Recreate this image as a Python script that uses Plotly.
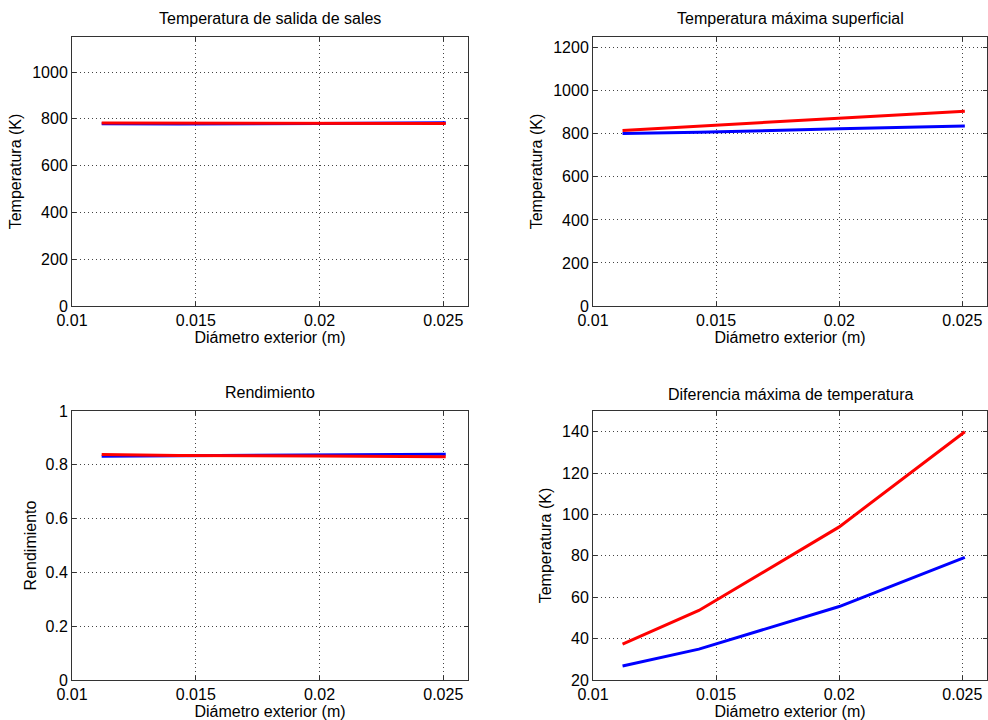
import plotly.graph_objects as go
from plotly.subplots import make_subplots

# ---- data ----
diametro = [0.0112, 0.0143, 0.0200, 0.0251]

t_salida_azul = [779, 778, 780, 783]
t_salida_rojo = [782, 781, 781, 780]

t_max_sup_azul = [801, 807, 824, 836]
t_max_sup_rojo = [816, 836, 871, 905]

rend_azul = [0.832, 0.834, 0.837, 0.839]
rend_rojo = [0.838, 0.835, 0.833, 0.830]

dif_max_azul = [26.8, 34.9, 55.5, 79.3]
dif_max_rojo = [37.3, 53.6, 94.0, 140.0]

titulos = ["Temperatura de salida de sales", "Temperatura máxima superficial",
           "Rendimiento", "Diferencia máxima de temperatura"]
ylabels = ["Temperatura (K)", "Temperatura (K)", "Rendimiento", "Temperatura (K)"]
xlabel = "Diámetro exterior (m)"

x_ticks = [0.01, 0.015, 0.02, 0.025]
x_ticktext = ["0.01", "0.015", "0.02", "0.025"]
y1_ticks = [0, 200, 400, 600, 800, 1000]
y2_ticks = [0, 200, 400, 600, 800, 1000, 1200]
y3_ticks = [0, 0.2, 0.4, 0.6, 0.8, 1]
y3_ticktext = ["0", "0.2", "0.4", "0.6", "0.8", "1"]
y4_ticks = [20, 40, 60, 80, 100, 120, 140]

# body margin is removed below, so the figure fills the 988x720 window
W, H = 988, 720
FONT = "Liberation Sans, Arial, Helvetica, sans-serif"
FS = 16


def px_x(p):
    return p / W


def px_y(p):
    return 1 - p / H


fig = make_subplots(rows=2, cols=2)

series = [
    (1, 1, t_salida_azul, t_salida_rojo),
    (1, 2, t_max_sup_azul, t_max_sup_rojo),
    (2, 1, rend_azul, rend_rojo),
    (2, 2, dif_max_azul, dif_max_rojo),
]
for r, c, az, ro in series:
    fig.add_trace(go.Scatter(x=diametro, y=az, mode="lines",
                             line=dict(color="#0000ff", width=3), showlegend=False),
                  row=r, col=c)
    fig.add_trace(go.Scatter(x=diametro, y=ro, mode="lines",
                             line=dict(color="#ff0000", width=3), showlegend=False),
                  row=r, col=c)

xdom = {1: [px_x(72), px_x(468)], 2: [px_x(593), px_x(987)]}
ydom = {1: [px_y(306), px_y(37)], 2: [px_y(680), px_y(411)]}

yranges = {(1, 1): [0, 1150], (1, 2): [0, 1250], (2, 1): [0, 1], (2, 2): [20, 150]}
yticks = {(1, 1): (y1_ticks, [str(v) for v in y1_ticks]),
          (1, 2): (y2_ticks, [str(v) for v in y2_ticks]),
          (2, 1): (y3_ticks, y3_ticktext),
          (2, 2): (y4_ticks, [str(v) for v in y4_ticks])}
ystandoff = {(1, 1): 6, (1, 2): 6, (2, 1): 4, (2, 2): 6}

axcommon = dict(showline=True, linecolor="#333333", linewidth=1, mirror="ticks",
                ticks="inside", ticklen=4, tickcolor="#333333",
                showgrid=True, gridcolor="#444444", griddash="1px,3px", gridwidth=1,
                zeroline=False, tickfont=dict(family=FONT, size=FS, color="black"),
                automargin=False)

for i, (r, c, _, _) in enumerate(series):
    fig.update_xaxes(domain=xdom[c], range=[0.01, 0.026], tickvals=x_ticks,
                     ticktext=x_ticktext, row=r, col=c,
                     title=dict(text=xlabel, font=dict(family=FONT, size=FS, color="black"),
                                standoff=0),
                     **axcommon)
    tv, tt = yticks[(r, c)]
    fig.update_yaxes(domain=ydom[r], range=yranges[(r, c)], tickvals=tv, ticktext=tt,
                     row=r, col=c,
                     title=dict(text=ylabels[i], font=dict(family=FONT, size=FS, color="black"),
                                standoff=ystandoff[(r, c)]),
                     **axcommon)

# titles
title_pos = [((72 + 468) / 2, 18), ((593 + 988) / 2, 18),
             ((72 + 468) / 2, 393), ((593 + 988) / 2, 394)]
for (px, py), t in zip(title_pos, titulos):
    fig.add_annotation(x=px_x(px), y=px_y(py), xref="paper", yref="paper",
                       text=t, showarrow=False, xanchor="center", yanchor="middle",
                       font=dict(family=FONT, size=FS, color="black"))

fig.update_layout(width=W, height=H, margin=dict(l=0, r=0, t=0, b=0),
                  paper_bgcolor="white", plot_bgcolor="white",
                  font=dict(family=FONT, size=FS, color="black"))

fig.write_html("out.html", config={"displayModeBar": False},
               post_script="document.body.style.margin='0';document.body.style.overflow='hidden';")
